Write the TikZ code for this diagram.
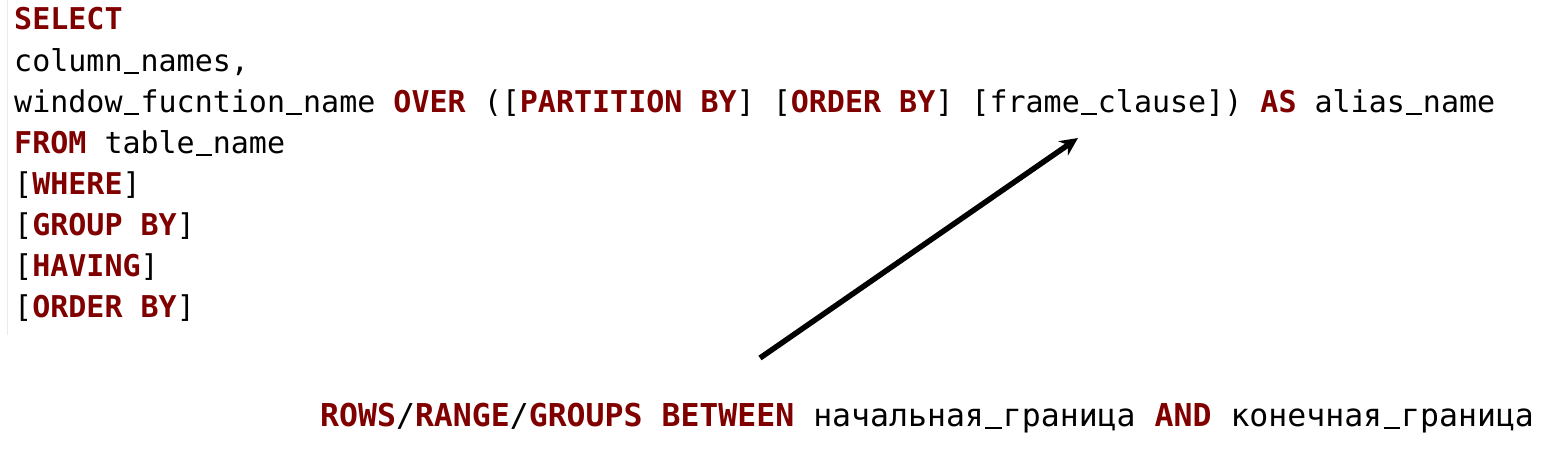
\documentclass[tikz,border=0pt]{standalone}
\usepackage{fontspec}
\setmonofont{DejaVu Sans Mono}
\definecolor{kw}{RGB}{128,0,0}
\definecolor{edge}{RGB}{235,235,235}
\newcommand{\kwd}[1]{{\bfseries\color{kw}#1}}
\newcommand{\us}{\makebox[0.602em][c]{\rule[-0.09em]{0.52em}{0.065em}}}
\tikzset{
  codeline/.style={anchor=base west, inner sep=0pt, font=\ttfamily\fontsize{30}{36}\selectfont},
  noteline/.style={anchor=base west, inner sep=0pt, font=\ttfamily\fontsize{31.5}{36}\selectfont},
  pointer/.style={line width=5.5pt, -{Stealth[length=18pt,width=17pt]}, black}
}
\usetikzlibrary{arrows.meta}
\begin{document}
\begin{tikzpicture}[x=1pt,y=-1pt]
\useasboundingbox (0,0) rectangle (1560,460);
\fill[white] (0,0) rectangle (1560,460);
\draw[edge, line width=1pt] (7,0) -- (7,335);
\node[codeline] (l1) at (14,30) {\kwd{SELECT}};
\node[codeline] (l2) at (14,71.1) {column\us names,};
\node[codeline] (l3) at (14,112.2) {window\us fucntion\us name \kwd{OVER} ([\kwd{PARTITION BY}] [\kwd{ORDER BY}] [frame\us clause]) \kwd{AS} alias\us name};
\node[codeline] (l4) at (14,153.3) {\kwd{FROM} table\us name};
\node[codeline] (l5) at (14,194.4) {[\kwd{WHERE}]};
\node[codeline] (l6) at (14,235.5) {[\kwd{GROUP BY}]};
\node[codeline] (l7) at (14,276.6) {[\kwd{HAVING}]};
\node[codeline] (l8) at (14,317.7) {[\kwd{ORDER BY}]};
\node[noteline] (note) at (320,426) {\kwd{ROWS}/\kwd{RANGE}/\kwd{GROUPS} \kwd{BETWEEN} начальная\us граница \kwd{AND} конечная\us граница};
\coordinate (tail) at (760,358);
\coordinate (tip) at (1078,138);
\draw[pointer] (tail) -- (tip);
\end{tikzpicture}
\end{document}
